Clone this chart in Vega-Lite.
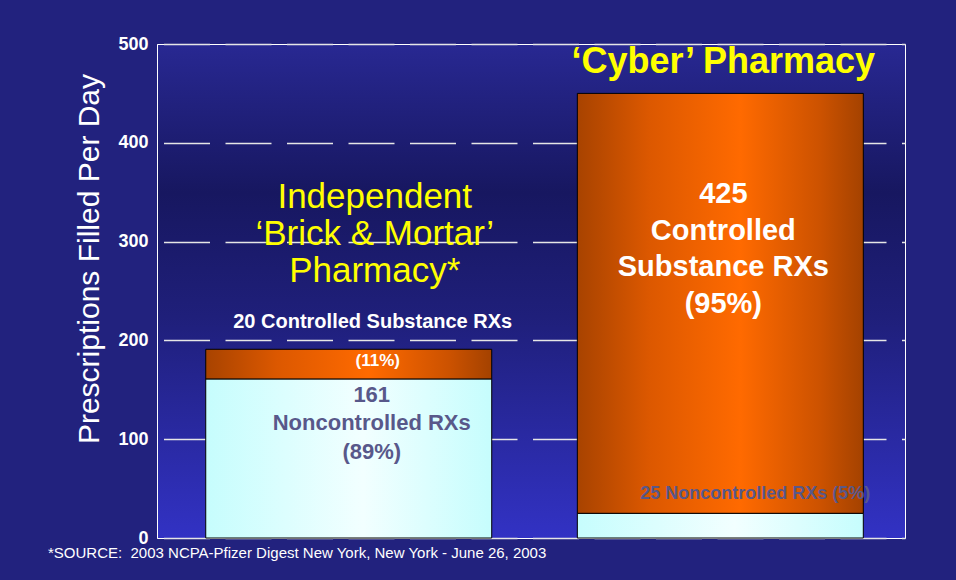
{
  "$schema": "https://vega.github.io/schema/vega-lite/v6.json",
  "width": 748,
  "height": 494,
  "autosize": {"type": "none"},
  "padding": {"left": 157, "top": 44, "right": 51, "bottom": 42},
  "background": "#22227e",
  "config": {
    "font": "Liberation Sans",
    "view": {
      "stroke": "#ffffff",
      "strokeWidth": 1,
      "fill": {"gradient": "linear", "x1": 0, "y1": 0, "x2": 0, "y2": 1, "stops": [
        {"offset": 0, "color": "#282892"},
        {"offset": 0.3, "color": "#171760"},
        {"offset": 0.55, "color": "#1f1f7a"},
        {"offset": 1, "color": "#3232c4"}
      ]}
    }
  },
  "title": {
    "text": "*SOURCE: \u00a02003 NCPA-Pfizer Digest New York, New York - June 26, 2003",
    "orient": "bottom",
    "anchor": "start",
    "frame": "group",
    "offset": 11,
    "dx": -109,
    "baseline": "alphabetic",
    "font": "Liberation Sans",
    "fontSize": 15,
    "fontWeight": "normal",
    "color": "#ffffff"
  },
  "layer": [
    {
      "data": {"values": [
        {"pharmacy": "Independent", "type": "Noncontrolled", "count": 161},
        {"pharmacy": "Independent", "type": "Controlled", "count": 30},
        {"pharmacy": "Cyber", "type": "Noncontrolled", "count": 25},
        {"pharmacy": "Cyber", "type": "Controlled", "count": 425}
      ]},
      "transform": [
        {"stack": "count", "groupby": ["pharmacy"], "sort": [{"field": "type", "order": "descending"}], "as": ["y0", "y1"]}
      ],
      "encoding": {
        "x": {"field": "pharmacy", "type": "nominal", "axis": null,
              "scale": {"type": "band", "domain": ["Independent", "Cyber"], "paddingInner": 0.2304, "paddingOuter": 0.1217, "align": 0.539}},
        "y": {"field": "y0", "type": "quantitative",
              "scale": {"domain": [0, 500], "nice": false, "zero": true},
              "axis": {
                "values": [0, 100, 200, 300, 400, 500],
                "title": "Prescriptions Filled Per Day",
                "titleFont": "Liberation Sans",
                "titleFontSize": 30,
                "titleFontWeight": "normal",
                "titleColor": "#ffffff",
                "titleAngle": -90,
                "titleAlign": "center",
                "titleBaseline": "alphabetic",
                "titleX": -59,
                "titleY": 214.5,
                "labelFont": "Liberation Sans",
                "labelFontSize": 18,
                "labelFontWeight": "bold",
                "labelColor": "#ffffff",
                "labelPadding": 9,
                "labelBaseline": "middle",
                "ticks": false,
                "domainColor": "#ffffff",
                "domainWidth": 1,
                "grid": true,
                "gridColor": "#e6e6e6",
                "gridWidth": 1.3,
                "gridDash": [46, 15.5],
                "gridDashOffset": 55
              }},
        "y2": {"field": "y1"}
      },
      "layer": [
        {
          "transform": [{"filter": "datum.type === 'Noncontrolled'"}],
          "mark": {"type": "bar", "stroke": "#000000", "strokeWidth": 1,
                   "color": {"gradient": "linear", "x1": 0, "y1": 0, "x2": 1, "y2": 0, "stops": [
                     {"offset": 0, "color": "#c6fdfd"},
                     {"offset": 0.55, "color": "#f2ffff"},
                     {"offset": 1, "color": "#c6fdfd"}
                   ]}}
        },
        {
          "transform": [{"filter": "datum.type === 'Controlled'"}],
          "mark": {"type": "bar", "stroke": "#000000", "strokeWidth": 1,
                   "color": {"gradient": "linear", "x1": 0, "y1": 0, "x2": 1, "y2": 0, "stops": [
                     {"offset": 0, "color": "#a84300"},
                     {"offset": 0.25, "color": "#dc5800"},
                     {"offset": 0.57, "color": "#ff6a00"},
                     {"offset": 0.85, "color": "#cc5200"},
                     {"offset": 1, "color": "#a44200"}
                   ]}}
        }
      ]
    },
    {
      "data": {"values": [{}]},
      "mark": {"type": "text", "text": "‘Cyber’ Pharmacy", "fontSize": 36, "fontWeight": "bold", "color": "#ffff00", "align": "center", "baseline": "alphabetic", "dx": 3},
      "encoding": {"x": {"datum": "Cyber", "type": "nominal"}, "y": {"datum": 470.6, "type": "quantitative"}}
    },
    {
      "data": {"values": [{}]},
      "mark": {"type": "text", "text": ["Independent", "‘Brick & Mortar’", "Pharmacy*"], "fontSize": 35, "fontWeight": "normal", "color": "#ffff00", "align": "center", "baseline": "alphabetic", "lineHeight": 36.7, "dx": 26},
      "encoding": {"x": {"datum": "Independent", "type": "nominal"}, "y": {"datum": 333.7, "type": "quantitative"}}
    },
    {
      "data": {"values": [{}]},
      "mark": {"type": "text", "text": "20 Controlled Substance RXs", "fontSize": 20, "fontWeight": "bold", "color": "#ffffff", "align": "center", "baseline": "alphabetic", "dx": 24},
      "encoding": {"x": {"datum": "Independent", "type": "nominal"}, "y": {"datum": 212.2, "type": "quantitative"}}
    },
    {
      "data": {"values": [{}]},
      "mark": {"type": "text", "text": "(11%)", "fontSize": 17, "fontWeight": "bold", "color": "#ffffff", "align": "center", "baseline": "alphabetic", "dx": 29},
      "encoding": {"x": {"datum": "Independent", "type": "nominal"}, "y": {"datum": 174, "type": "quantitative"}}
    },
    {
      "data": {"values": [{}]},
      "mark": {"type": "text", "text": ["161", "Noncontrolled RXs", "(89%)"], "fontSize": 22, "fontWeight": "bold", "color": "#58588a", "align": "center", "baseline": "alphabetic", "lineHeight": 28.5, "dx": 23},
      "encoding": {"x": {"datum": "Independent", "type": "nominal"}, "y": {"datum": 138, "type": "quantitative"}}
    },
    {
      "data": {"values": [{}]},
      "mark": {"type": "text", "text": ["425", "Controlled", "Substance RXs", "(95%)"], "fontSize": 29, "fontWeight": "bold", "color": "#ffffff", "align": "center", "baseline": "alphabetic", "lineHeight": 36.5, "dx": 3},
      "encoding": {"x": {"datum": "Cyber", "type": "nominal"}, "y": {"datum": 338.8, "type": "quantitative"}}
    },
    {
      "data": {"values": [{}]},
      "mark": {"type": "text", "text": "25 Noncontrolled RXs (5%)", "fontSize": 18, "fontWeight": "bold", "color": "#58588a", "align": "center", "baseline": "alphabetic", "dx": 35},
      "encoding": {"x": {"datum": "Cyber", "type": "nominal"}, "y": {"datum": 39.2, "type": "quantitative"}}
    }
  ]
}
